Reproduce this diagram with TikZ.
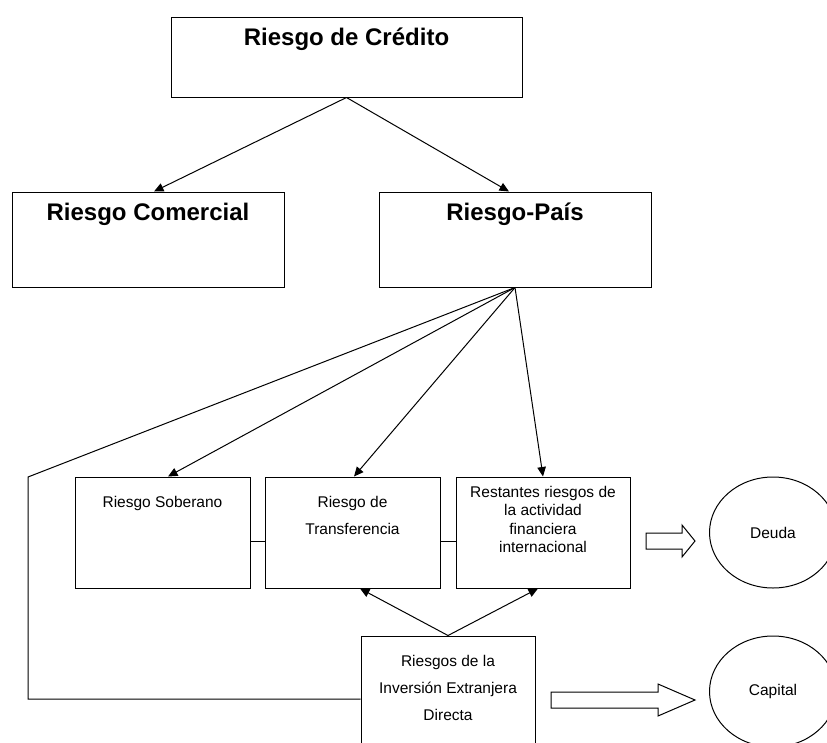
\documentclass[tikz,border=0pt]{standalone}
\usepackage{fontspec}
\setmainfont{Liberation Sans}
\usetikzlibrary{arrows.meta,positioning,shapes.geometric}

\tikzset{
  caja/.style={draw, line width=1pt, inner sep=0pt},
  titulo/.style={font=\bfseries\fontsize{24}{28}\selectfont, inner sep=0pt, anchor=base},
  texto/.style={font=\fontsize{15.5}{27}\selectfont, inner sep=0pt, align=center},
  flecha/.style={line width=1pt, -{Triangle[length=9.5pt,width=8.5pt]}},
  bloque/.style={draw, line width=1pt, fill=white},
}

\begin{document}
\begin{tikzpicture}[x=1pt,y=-1pt]
  \useasboundingbox (0,0) rectangle (827,742);
  \clip (0,0) rectangle (827,742);

  % upper level
  \node[caja, minimum width=351pt, minimum height=80pt] (cred) at (346.5,57) {};
  \node[titulo] (credtxt) at ([yshift=-29pt]cred.north) {Riesgo de Crédito};

  \node[caja, minimum width=272pt, minimum height=95pt] (com) at (148,239.5) {};
  \node[titulo] (comtxt) at ([yshift=-29pt]com.north) {Riesgo Comercial};
  \node[caja, minimum width=272pt, minimum height=95pt] (rp) at (515,239.5) {};
  \node[titulo] (rptxt) at ([yshift=-29pt]rp.north) {Riesgo-País};

  \draw[flecha] (cred.south) -- ([xshift=6pt]com.north);
  \draw[flecha] (cred.south) -- ([xshift=-6pt]rp.north);

  % lower level
  \node[caja, minimum width=175pt, minimum height=111pt] (sob) at (162.5,532.5) {};
  \node[texto, below=19.7pt of sob.north] (sobtxt) {Riesgo Soberano};
  \node[caja, minimum width=175pt, minimum height=111pt] (transf) at (352.5,532.5) {};
  \node[texto, below=19.7pt of transf.north] (transftxt) {Riesgo de\\Transferencia};
  \node[caja, minimum width=174pt, minimum height=111pt] (rest) at (543,532.5) {};
  \node[texto, font=\fontsize{15.5}{18.3}\selectfont, below=9.7pt of rest.north] (resttxt)
    {Restantes riesgos de\\la actividad\\financiera\\internacional};
  \node[caja, minimum width=174pt, minimum height=111pt] (ied) at (448,691.5) {};
  \node[texto, below=19.7pt of ied.north] (iedtxt) {Riesgos de la\\Inversión Extranjera\\Directa};

  \node[caja, ellipse, minimum width=127pt, minimum height=111pt, font=\fontsize{15.5}{18}\selectfont] (deuda) at (773,532.5) {Deuda};
  \node[caja, ellipse, minimum width=127pt, minimum height=111pt, font=\fontsize{15.5}{18}\selectfont] (capital) at (773,691.5) {Capital};

  \draw[flecha] (rp.south) -- ([xshift=5.5pt]sob.north);
  \draw[flecha] (rp.south) -- ([xshift=1.5pt]transf.north);
  \draw[flecha] (rp.south) -- (rest.north);
  \draw[flecha] (ied.north) -- ([xshift=7.5pt]transf.south);
  \draw[flecha] (ied.north) -- ([xshift=-5pt]rest.south);

  \coordinate (esq1) at (28,477);
  \coordinate (esq2) at (28,699);
  \draw[line width=1pt] (rp.south) -- (esq1) -- (esq2) -- (esq2 -| ied.west);

  \draw[line width=1pt] ([yshift=-8.5pt]sob.east) -- ([yshift=-8.5pt]transf.west);
  \draw[line width=1pt] ([yshift=-8.5pt]transf.east) -- ([yshift=-8.5pt]rest.west);

  % block arrows
  \draw[bloque] (646,533) -- (682,533) -- (682,525) -- (695,541) -- (682,557) -- (682,549) -- (646,549) -- cycle;
  \draw[bloque] (551,692) -- (658,692) -- (658,684) -- (695,700) -- (658,716) -- (658,708) -- (551,708) -- cycle;
\end{tikzpicture}
\end{document}
